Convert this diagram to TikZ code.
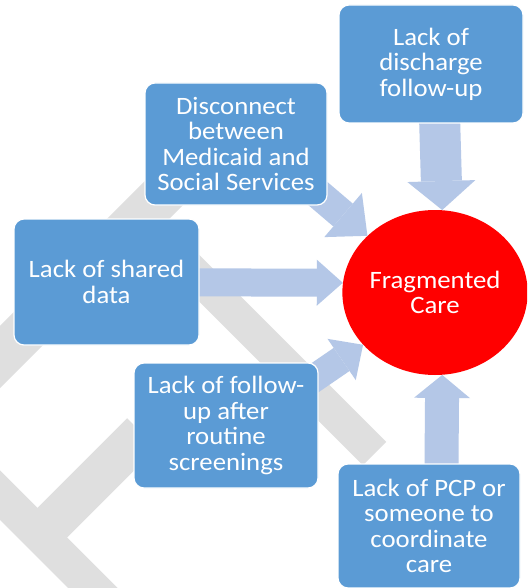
\documentclass[tikz,border=0pt]{standalone}
\usepackage{fontspec}
\setmainfont{Carlito}[FakeStretch=1.07]
\usetikzlibrary{arrows.meta,shapes.geometric}
\definecolor{boxblue}{HTML}{5B9BD5}
\definecolor{arrowblue}{HTML}{B4C7E7}
\definecolor{bandgray}{HTML}{DFDFDF}
\definecolor{hubred}{HTML}{FF0000}
\pgfdeclarelayer{bands}
\pgfdeclarelayer{links}
\pgfsetlayers{bands,links,main}
\begin{document}
\begin{tikzpicture}[x=1pt,y=-1pt,
  cause/.style={draw=white, line width=1.2pt, fill=boxblue, rounded corners=10pt,
    text=white, align=center, inner sep=0pt,
    font=\fontsize{25}{25.5}\selectfont},
  band/.style={draw=bandgray, line cap=butt, line width=#1},
  flow/.style n args={3}{draw=arrowblue, line cap=butt, line width=#1,
    -{Triangle[length=#2, width=#3, line width=0pt]}},
]
\useasboundingbox (0,0) rectangle (527,588);
\clip (0,0) rectangle (527,588);

% cause boxes and the central hub
\node[cause, minimum width=184pt, minimum height=118pt] (discharge) at (431,64)
  {\raisebox{3pt}{\parbox{170pt}{\centering Lack of\\discharge\\follow-up}}};
\node[cause, minimum width=182pt, minimum height=122pt] (disc) at (236,144)
  {Disconnect\\between\\Medicaid and\\Social Services};
\node[cause, minimum width=185pt, minimum height=126pt] (shared) at (106.5,282)
  {Lack of shared\\data};
\node[cause, minimum width=184pt, minimum height=125pt] (follow) at (226,425.5)
  {Lack of follow-\\up after\\routine\\screenings};
\node[cause, minimum width=182pt, minimum height=124pt] (pcp) at (429,526)
  {Lack of PCP or\\someone to\\coordinate\\care};
\node[ellipse, fill=hubred, text=white, align=center, inner sep=0pt,
  minimum width=184pt, minimum height=165pt,
  font=\fontsize{25}{25.5}\selectfont] (hub) at (435,292.5) {Fragmented\\Care};

% block arrows into the hub
\begin{pgfonlayer}{links}
  \draw[flow={41pt}{29pt}{68pt}] ([xshift=7]discharge.center) -- (hub.85);
  \draw[flow={30pt}{32pt}{58pt}] ([shift={(46,19)}]disc.center) -- (hub.140);
  \draw[flow={28pt}{26pt}{46pt}] (shared.center) -- (hub.174.7);
  \draw[flow={28pt}{26pt}{50pt}] ([shift={(63,-30)}]follow.center) -- (hub.216);
  \draw[flow={34pt}{23pt}{56pt}] ([xshift=12]pcp.center) -- (hub.275.6);
\end{pgfonlayer}

% faint diagonal bands in the background
\begin{pgfonlayer}{bands}
  \fill[white] (0,0) rectangle (527,588);
  \draw[band=44pt] (-50,407) -- (200,157);
  \draw[band=33pt] (160,239) -- (374.5,453.5);
  \draw[band=42pt] (40,535) -- (142,433);
  \draw[band=35pt] (-60,435) -- (160,655);
\end{pgfonlayer}
\end{tikzpicture}
\end{document}
